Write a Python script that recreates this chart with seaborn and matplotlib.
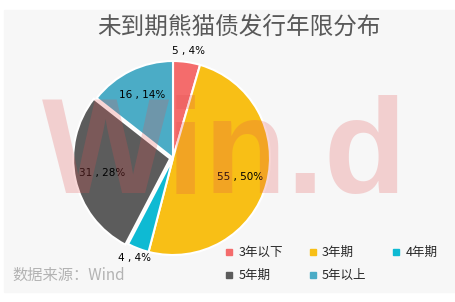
import matplotlib
matplotlib.use("Agg")
import matplotlib.pyplot as plt
from matplotlib.patches import Rectangle
from matplotlib.lines import Line2D
import numpy as np
import seaborn as sns

# ---- data ----
categories = ["3年以下", "3年期", "4年期", "5年期", "5年以上"]
counts = [5, 55, 4, 31, 16]
pct_labels = ["4%", "50%", "4%", "28%", "14%"]
title = "未到期熊猫债发行年限分布"
source = "数据来源：Wind"
watermark = "Win.d"

# ---- styles ----
sns.set_theme(style="white")
plt.rcParams['font.family'] = ['Noto Sans CJK SC', 'DejaVu Sans']
colors = sns.color_palette(["#F46C6C", "#F8BF16", "#0EBAD3", "#5C5C5C", "#4BACC6"])

W, H = 455, 302
fig = plt.figure(figsize=(W / 100, H / 100), dpi=100)
fig.patch.set_facecolor("white")
fig.patches.append(Rectangle((4 / W, (H - 292) / H), (W - 4) / W, (292 - 10) / H,
                             transform=fig.transFigure, color="#F7F7F7", zorder=-10))

cx, cy, R = 173, 158, 97
half = 115
ax = fig.add_axes([(cx - half) / W, (H - cy - half) / H, 2 * half / W, 2 * half / H])
ax.set_facecolor("none")

explode = [0, 0, 0, 0.03, 0]
wedges, _ = ax.pie(counts, colors=colors, startangle=90, counterclock=False,
                   explode=explode,
                   wedgeprops=dict(edgecolor="white", linewidth=1.5))
ax.set_xlim(-half / R, half / R)
ax.set_ylim(-half / R, half / R)
ax.set_aspect("equal")
ax.axis("off")

total = sum(counts)
for w, n, p, e in zip(wedges, counts, pct_labels, explode):
    th = np.deg2rad((w.theta1 + w.theta2) / 2)
    r = 1.11 if n / total < 0.05 else 0.72
    r += e
    ax.text(r * np.cos(th), r * np.sin(th), f"{n} , {p}", ha="center", va="center",
            fontsize=7.5, color="black", family="DejaVu Sans")

# title
fig.text(239 / W, 1 - 27 / H, title, ha="center", va="center", fontsize=17, color="#595959")

# source
fig.text(12 / W, 1 - 275 / H, source, ha="left", va="center", fontsize=11, color="#B3B3B3")

# legend (reordered so rows read left-to-right)
order = [0, 3, 1, 4, 2]
handles = [Line2D([], [], marker="s", linestyle="", markersize=5, color=colors[i]) for i in order]
labels = [categories[i] for i in order]
fig.legend(handles, labels, ncol=3, frameon=False, loc="upper left",
           bbox_to_anchor=(225 / W, 1 - 246 / H), fontsize=9,
           handlelength=0.7, handletextpad=0.4, columnspacing=2.0,
           labelspacing=0.8, borderaxespad=0, borderpad=0)

# watermark
fig.text(42 / W, (H - 193) / H, watermark, ha="left", va="baseline", fontsize=97,
         family="Liberation Sans", fontweight="bold", color=(226 / 255, 80 / 255, 80 / 255),
         alpha=0.234, zorder=5)

fig.savefig("out.png", dpi=100, facecolor=fig.get_facecolor())
